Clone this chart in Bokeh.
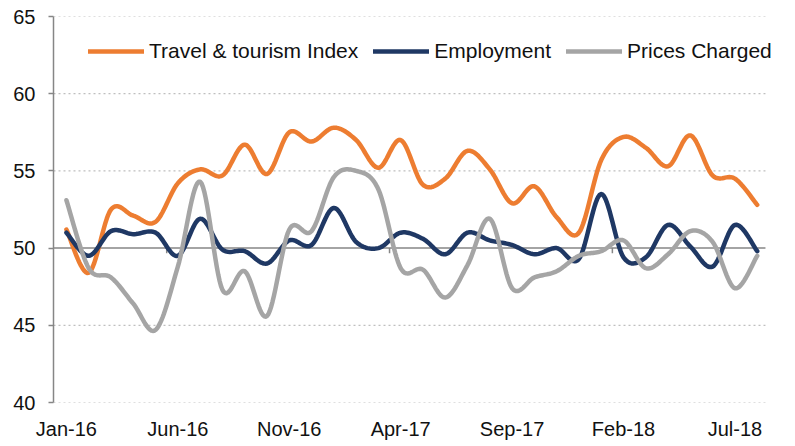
import numpy as np
from bokeh.plotting import figure
from bokeh.models import Range1d, FixedTicker, Legend, LegendItem
from bokeh.embed import file_html
from bokeh.resources import INLINE

months = ["Jan-16", "Feb-16", "Mar-16", "Apr-16", "May-16", "Jun-16", "Jul-16", "Aug-16",
          "Sep-16", "Oct-16", "Nov-16", "Dec-16", "Jan-17", "Feb-17", "Mar-17", "Apr-17",
          "May-17", "Jun-17", "Jul-17", "Aug-17", "Sep-17", "Oct-17", "Nov-17", "Dec-17",
          "Jan-18", "Feb-18", "Mar-18", "Apr-18", "May-18", "Jun-18", "Jul-18", "Aug-18"]

travel = [51.2, 48.4, 52.5, 52.1, 51.7, 54.2, 55.1, 54.7, 56.7, 54.8, 57.5, 56.9,
          57.8, 57.0, 55.2, 57.0, 54.1, 54.5, 56.3, 55.1, 52.9, 54.0, 52.0, 51.0,
          55.7, 57.2, 56.5, 55.3, 57.3, 54.7, 54.5, 52.8]
employment = [51.0, 49.5, 51.1, 50.9, 51.0, 49.5, 51.9, 49.9, 49.8, 49.0, 50.5, 50.2,
              52.6, 50.4, 50.0, 51.0, 50.6, 49.6, 51.0, 50.5, 50.2, 49.6, 50.0, 49.3,
              53.5, 49.4, 49.4, 51.5, 50.1, 48.8, 51.5, 49.8]
prices = [53.1, 48.7, 48.1, 46.4, 44.7, 48.8, 54.3, 47.3, 48.5, 45.6, 51.2, 51.1,
          54.6, 55.0, 53.8, 48.7, 48.6, 46.8, 48.9, 51.9, 47.4, 48.1, 48.5, 49.5,
          49.8, 50.5, 48.7, 49.6, 51.1, 50.4, 47.4, 49.5]

label_idx = [0, 5, 10, 15, 20, 25, 30]
y_ticks = [40, 45, 50, 55, 60, 65]
axis_cross = 50

series_names = ["Travel & tourism Index", "Employment", "Prices Charged"]
series_colors = ["#ED7D31", "#1F3864", "#A5A5A5"]

# plot-area extent in category units (area ends before the legend's right end)
area_lo, area_hi = -0.58, 31.37
frame_hi = 32.0


def smooth(xs, ys, n=16):
    xs = np.asarray(xs, float)
    ys = np.asarray(ys, float)
    P = np.stack([xs, ys], axis=1)
    out = [P[0]]
    m = len(P)
    for i in range(m - 1):
        p0 = P[i - 1] if i > 0 else P[i]
        p1 = P[i]
        p2 = P[i + 1]
        p3 = P[i + 2] if i + 2 < m else P[i + 1]
        c1 = p1 + (p2 - p0) / 6.0
        c2 = p2 - (p3 - p1) / 6.0
        t = np.linspace(0, 1, n + 1)[1:, None]
        pts = ((1 - t) ** 3) * p1 + 3 * ((1 - t) ** 2) * t * c1 + 3 * (1 - t) * t ** 2 * c2 + t ** 3 * p2
        out.extend(pts)
    out = np.array(out)
    return out[:, 0], out[:, 1]


p = figure(width=779, height=442, output_backend="svg", toolbar_location=None,
           x_range=Range1d(area_lo, frame_hi), y_range=Range1d(y_ticks[0], y_ticks[-1]),
           min_border_left=53, min_border_right=0, min_border_top=16, min_border_bottom=38)
p.outline_line_color = None
p.background_fill_color = "white"
p.border_fill_color = "white"

# axes
p.xaxis.ticker = FixedTicker(ticks=label_idx)
p.xaxis.major_label_overrides = {i: months[i] for i in label_idx}
p.xaxis.axis_line_color = None
p.xaxis.major_tick_line_color = None
p.xaxis.minor_tick_line_color = None
p.xaxis.major_tick_out = 0
p.xaxis.major_label_standoff = 15
p.xaxis.major_label_text_font = "Liberation Sans"
p.xaxis.major_label_text_font_size = "20px"
p.xaxis.major_label_text_color = "#111111"

p.yaxis.ticker = FixedTicker(ticks=y_ticks)
p.yaxis.axis_line_color = "#868686"
p.yaxis.axis_line_width = 1.5
p.yaxis.major_tick_line_color = "#868686"
p.yaxis.major_tick_line_width = 1.5
p.yaxis.major_tick_out = 5
p.yaxis.major_tick_in = 0
p.yaxis.minor_tick_line_color = None
p.yaxis.major_label_standoff = 13
p.yaxis.major_label_text_font = "Liberation Sans"
p.yaxis.major_label_text_font_size = "20px"
p.yaxis.major_label_text_color = "#111111"

p.xgrid.grid_line_color = None
p.ygrid.grid_line_color = None

# dotted gridlines limited to the plot area
gy = [t for t in y_ticks if t != axis_cross]
p.segment(x0=[area_lo] * len(gy), y0=gy, x1=[area_hi] * len(gy), y1=gy,
          line_color="#BFBFBF", line_dash="2 3", line_width=1.2)

# horizontal category axis crossing at 50, with tick marks every 10 categories (between categories)
p.segment(x0=[area_lo], y0=[axis_cross], x1=[area_hi], y1=[axis_cross],
          line_color="#868686", line_width=1.5)
bounds = [i - 0.5 for i in range(5, len(months), 10)]
p.segment(x0=bounds, y0=[axis_cross] * len(bounds), x1=bounds,
          y1=[axis_cross - 0.33] * len(bounds), line_color="#868686", line_width=1.5)

idx = list(range(len(months)))
renderers = []
for name, vals, col in zip(series_names, [travel, employment, prices], series_colors):
    sx, sy = smooth(idx, vals)
    r = p.line(sx, sy, line_color=col, line_width=4.5, line_cap="round", line_join="round")
    renderers.append((name, r))

legend = Legend(items=[LegendItem(label=n, renderers=[r]) for n, r in renderers],
                orientation="horizontal", location=(35, 339),
                background_fill_alpha=0, border_line_color=None,
                label_text_font="Liberation Sans", label_text_font_size="21px",
                label_text_color="#111111", glyph_width=56, glyph_height=20,
                label_height=20, label_standoff=5, spacing=15, padding=0, margin=0)
p.add_layout(legend)

open("out.html", "w").write(file_html(p, INLINE))
